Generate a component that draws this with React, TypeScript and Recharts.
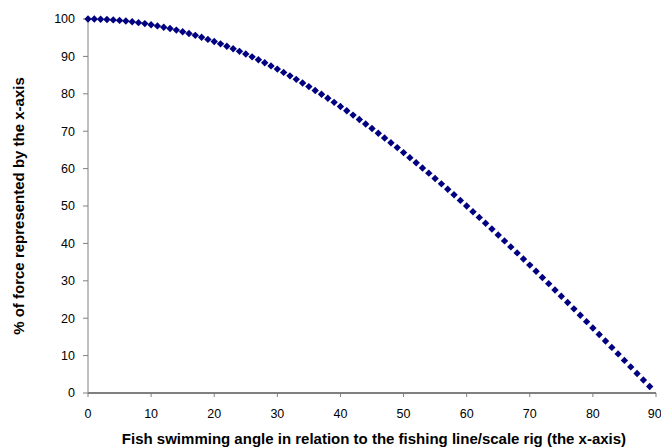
import React from "react";
import {
  ScatterChart,
  Scatter,
  XAxis,
  YAxis,
  Label,
} from "recharts";

// angle of the fish (degrees)
const angles = [
  0, 1, 2, 3, 4, 5, 6, 7, 8, 9,
  10, 11, 12, 13, 14, 15, 16, 17, 18, 19,
  20, 21, 22, 23, 24, 25, 26, 27, 28, 29,
  30, 31, 32, 33, 34, 35, 36, 37, 38, 39,
  40, 41, 42, 43, 44, 45, 46, 47, 48, 49,
  50, 51, 52, 53, 54, 55, 56, 57, 58, 59,
  60, 61, 62, 63, 64, 65, 66, 67, 68, 69,
  70, 71, 72, 73, 74, 75, 76, 77, 78, 79,
  80, 81, 82, 83, 84, 85, 86, 87, 88, 89,
];

// % of force along the x-axis
const forcePct = [
  100.0, 99.98, 99.94, 99.86, 99.76, 99.62, 99.45, 99.25, 99.03, 98.77,
  98.48, 98.16, 97.81, 97.44, 97.03, 96.59, 96.13, 95.63, 95.11, 94.55,
  93.97, 93.36, 92.72, 92.05, 91.35, 90.63, 89.88, 89.1, 88.29, 87.46,
  86.6, 85.72, 84.8, 83.87, 82.9, 81.92, 80.9, 79.86, 78.8, 77.71,
  76.6, 75.47, 74.31, 73.14, 71.93, 70.71, 69.47, 68.2, 66.91, 65.61,
  64.28, 62.93, 61.57, 60.18, 58.78, 57.36, 55.92, 54.46, 52.99, 51.5,
  50.0, 48.48, 46.95, 45.4, 43.84, 42.26, 40.67, 39.07, 37.46, 35.84,
  34.2, 32.56, 30.9, 29.24, 27.56, 25.88, 24.19, 22.5, 20.79, 19.08,
  17.36, 15.64, 13.92, 12.19, 10.45, 8.72, 6.98, 5.23, 3.49, 1.75,
];

const xTicks = [0, 10, 20, 30, 40, 50, 60, 70, 80, 90];
const yTicks = [0, 10, 20, 30, 40, 50, 60, 70, 80, 90, 100];

const xTitle = "Fish swimming angle in relation to the fishing line/scale rig (the x-axis)";
const yTitle = "% of force represented by the x-axis";

const points = angles.map((a, i) => ({ angle: a, pct: forcePct[i] }));

const font = "Arial, 'Liberation Sans', sans-serif";

// Excel style diamond marker (square turned 45 degrees)
const Diamond = (props: any) => {
  const { cx, cy } = props;
  const r = 3.7;
  return (
    <polygon
      points={`${cx},${cy - r} ${cx + r},${cy} ${cx},${cy + r} ${cx - r},${cy}`}
      fill="#000080"
    />
  );
};

export default function App() {
  return (
    <div style={{ position: "absolute", left: 0, top: 0, width: 661, height: 448, background: "#fff" }}>
      <ScatterChart
        width={661}
        height={448}
        margin={{ top: 19, right: 5, bottom: 0, left: 28 }}
      >
        <XAxis
          type="number"
          dataKey="angle"
          domain={[0, 90]}
          ticks={xTicks}
          height={55}
          stroke="#000"
          tickSize={4}
          tickMargin={12}
          tick={{ fill: "#000", fontSize: 12.5, fontFamily: font }}
          tickLine={{ stroke: "#808080" }}
        >
          <Label
            content={() => (
              <text
                x={374}
                y={444}
                textAnchor="middle"
                fill="#000"
                fontSize={15}
                fontWeight="bold"
                fontFamily={font}
              >
                {xTitle}
              </text>
            )}
          />
        </XAxis>
        <YAxis
          type="number"
          dataKey="pct"
          domain={[0, 100]}
          ticks={yTicks}
          width={60}
          stroke="#808080"
          tickSize={5}
          tickMargin={8}
          tick={{ fill: "#000", fontSize: 12.5, fontFamily: font }}
        >
          <Label
            content={() => (
              <text
                x={24}
                y={206}
                transform="rotate(-90, 24, 206)"
                textAnchor="middle"
                fill="#000"
                fontSize={15}
                fontWeight="bold"
                fontFamily={font}
              >
                {yTitle}
              </text>
            )}
          />
        </YAxis>
        <Scatter
          data={points}
          shape={Diamond}
          fill="#000080"
          isAnimationActive={false}
        />
      </ScatterChart>
    </div>
  );
}
